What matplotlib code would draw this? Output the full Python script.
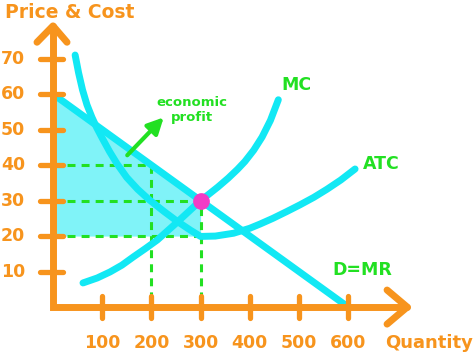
import matplotlib
matplotlib.use("Agg")
import matplotlib.pyplot as plt

# demand (= MR) line
demand_q = [0, 600]
demand_p = [60, 0]

# marginal cost curve
mc_q = [61, 90, 116, 140, 163, 188, 212, 250, 300, 315, 335, 356, 375, 390, 408, 425, 442, 458]
mc_p = [6.8, 8.2, 9.9, 11.8, 14.1, 16.5, 18.9, 23.6, 30.0, 31.6, 33.8, 36.3, 38.8, 41.0, 44.2, 47.9, 52.6, 58.4]

# average total cost curve
atc_q = [45, 52, 60, 69, 79, 89, 100, 115, 130, 150, 172, 195, 225, 253, 280, 300,
         330, 367, 400, 421, 447, 475, 502, 530, 557, 585, 614]
atc_p = [71.0, 66.0, 61.2, 57.0, 53.5, 50.5, 47.6, 43.8, 40.4, 36.5, 33.2, 30.3, 27.0, 24.1, 21.6, 19.9,
         20.0, 20.8, 22.2, 23.4, 25.0, 26.9, 28.8, 30.9, 33.2, 35.8, 38.9]

q_star = 300
price = 30
atc_at_q = 20
q_demand40 = 200
p40 = 40

x_ticks = [100, 200, 300, 400, 500, 600]
y_ticks = [10, 20, 30, 40, 50, 60, 70]

orange = '#F7941D'
cyan = '#12E8F4'
shade = '#80F3F8'
green = '#22E022'
magenta = '#F23CC6'

fig = plt.figure(figsize=(4.74, 3.55), dpi=100)
ax = fig.add_axes([0, 0, 1, 1])
ax.set_xlim(-107.7, 855.7)
ax.set_ylim(-13.5, 86.5)
ax.axis('off')

# profit area
ax.fill_between([0, q_star], [atc_at_q, atc_at_q], [demand_p[0], price], color=shade, lw=0, zorder=1)

# dashed guides
dash = dict(color=green, lw=2.2, ls=(0, (2.6, 2.0)), zorder=2)
ax.plot([0, q_demand40, q_demand40], [p40, p40, 0], **dash)
ax.plot([0, q_star, q_star], [price, price, 0], **dash)
ax.plot([0, q_star], [atc_at_q, atc_at_q], **dash)

# curves
ax.plot(demand_q, demand_p, color=cyan, lw=5, solid_capstyle='round', zorder=3)
ax.plot(atc_q, atc_p, color=cyan, lw=5, solid_capstyle='round', solid_joinstyle='round', zorder=3)
ax.plot(mc_q, mc_p, color=cyan, lw=5, solid_capstyle='round', solid_joinstyle='round', zorder=3)
ax.plot([q_star], [price], 'o', color=magenta, ms=11, zorder=5)

# axes with arrows
ax.plot([0, 0, 720], [79.2, 0, 0], color=orange, lw=5, solid_capstyle='round', solid_joinstyle='miter', zorder=4)
ax.plot([-32.5, 0, 28.5], [74.6, 79.2, 74.6], color=orange, lw=5, solid_capstyle='round', zorder=4)
ax.plot([679, 720, 679], [4.8, 0, -4.8], color=orange, lw=5, solid_capstyle='round', zorder=4)
for t in y_ticks:
    ax.plot([-26, 20], [t, t], color=orange, lw=3.8, solid_capstyle='round', zorder=4)
    ax.text(-57, t, str(t), ha='right', va='center', color=orange, fontsize=12.5, fontweight='bold')
for t in x_ticks:
    ax.plot([t, t], [3.1, -3.1], color=orange, lw=3.8, solid_capstyle='round', zorder=4)
    ax.text(t, -10.1, str(t), ha='center', va='center', color=orange, fontsize=12.5, fontweight='bold')

ax.text(-97.6, 83.1, 'Price & Cost', ha='left', va='center', color=orange, fontsize=13.5, fontweight='bold')
ax.text(675, -10.1, 'Quantity', ha='left', va='center', color=orange, fontsize=13, fontweight='bold')

# labels
ax.text(465, 62.5, 'MC', ha='left', va='center', color=green, fontsize=12.5, fontweight='bold')
ax.text(630, 40.3, 'ATC', ha='left', va='center', color=green, fontsize=12.5, fontweight='bold')
ax.text(567, 10.4, 'D=MR', ha='left', va='center', color=green, fontsize=12.5, fontweight='bold')
ax.text(282, 57.7, 'economic', ha='center', va='center', color=green, fontsize=9.5, fontweight='bold')
ax.text(282, 53.5, 'profit', ha='center', va='center', color=green, fontsize=9.5, fontweight='bold')
ax.annotate('', xy=(229, 54), xytext=(147, 42.2),
            arrowprops=dict(arrowstyle='-|>', color=green, lw=3, mutation_scale=24), zorder=6)

fig.savefig('out.png', dpi=100)
